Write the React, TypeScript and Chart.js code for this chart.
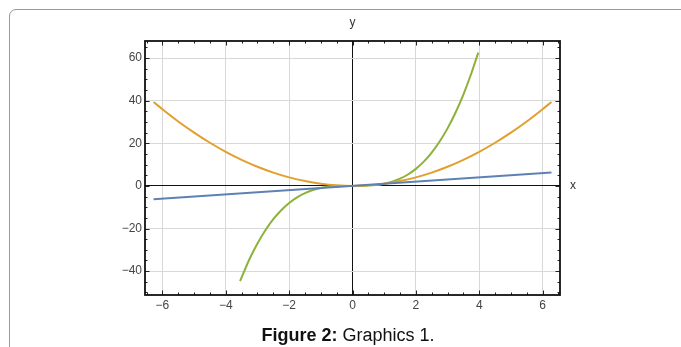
import React, { useEffect, useRef } from "react";
import { Chart, registerables } from "chart.js";

Chart.register(...registerables);

// ---- data ----
const lineX = [-6.28, 6.28];
const lineY = [-6.28, 6.28];

const squareX = [-6.28, -6, -5.5, -5, -4.5, -4, -3.5, -3, -2.5, -2, -1.5, -1, -0.5, 0, 0.5, 1, 1.5, 2, 2.5, 3, 3.5, 4, 4.5, 5, 5.5, 6, 6.28];
const squareY = [39.4, 36, 30.25, 25, 20.25, 16, 12.25, 9, 6.25, 4, 2.25, 1, 0.25, 0, 0.25, 1, 2.25, 4, 6.25, 9, 12.25, 16, 20.25, 25, 30.25, 36, 39.4];

const cubeX = [-3.55, -3.25, -3, -2.75, -2.5, -2.25, -2, -1.75, -1.5, -1.25, -1, -0.75, -0.5, -0.25, 0, 0.25, 0.5, 0.75, 1, 1.25, 1.5, 1.75, 2, 2.25, 2.5, 2.75, 3, 3.25, 3.5, 3.75, 3.97];
const cubeY = [-44.7, -34.3, -27, -20.8, -15.6, -11.4, -8, -5.36, -3.38, -1.95, -1, -0.42, -0.13, -0.02, 0, 0.02, 0.13, 0.42, 1, 1.95, 3.38, 5.36, 8, 11.39, 15.63, 20.8, 27, 34.33, 42.88, 52.73, 62.57];

const xMajorTicks = [-6, -4, -2, 0, 2, 4, 6];
const yMajorTicks = [-40, -20, 0, 20, 40, 60];
const xMinorStep = 0.5;
const yMinorStep = 5;
const xRange = [-6.55, 6.55];
const yRange = [-51.2, 68];

const seriesColors = ["#5E81B5", "#E39F2E", "#8DB13A"];

const zip = (xs: number[], ys: number[]) => xs.map((x, i) => ({ x, y: ys[i] }));
const fmt = (v: number) => (v < 0 ? "\u2212" + Math.abs(v) : String(v));

const framePlugin = {
  id: "mmaFrame",
  afterDraw(chart: any) {
    const { ctx, chartArea: a, scales } = chart;
    const xs = scales.x;
    const ys = scales.y;
    ctx.save();
    ctx.strokeStyle = "#222";
    ctx.lineWidth = 1;
    const drawX = (v: number, len: number) => {
      const p = Math.round(xs.getPixelForValue(v)) + 0.5;
      ctx.beginPath();
      ctx.moveTo(p, a.bottom);
      ctx.lineTo(p, a.bottom - len);
      ctx.moveTo(p, a.top);
      ctx.lineTo(p, a.top + len);
      ctx.stroke();
    };
    const drawY = (v: number, len: number) => {
      const p = Math.round(ys.getPixelForValue(v)) + 0.5;
      ctx.beginPath();
      ctx.moveTo(a.left, p);
      ctx.lineTo(a.left + len, p);
      ctx.moveTo(a.right, p);
      ctx.lineTo(a.right - len, p);
      ctx.stroke();
    };
    for (let v = Math.ceil(xRange[0] / xMinorStep) * xMinorStep; v <= xRange[1]; v += xMinorStep) {
      if (!xMajorTicks.includes(v)) drawX(v, 2.5);
    }
    xMajorTicks.forEach((v) => drawX(v, 4.5));
    for (let v = Math.ceil(yRange[0] / yMinorStep) * yMinorStep; v <= yRange[1]; v += yMinorStep) {
      if (!yMajorTicks.includes(v)) drawY(v, 2.5);
    }
    yMajorTicks.forEach((v) => drawY(v, 4.5));
    ctx.lineWidth = 1.8;
    ctx.strokeStyle = "#111";
    ctx.strokeRect(a.left, a.top, a.right - a.left, a.bottom - a.top);
    ctx.fillStyle = "#333";
    ctx.font = "12px 'Liberation Sans', Arial, sans-serif";
    ctx.textAlign = "center";
    ctx.textBaseline = "middle";
    ctx.fillText("y", xs.getPixelForValue(0), a.top - 18);
    ctx.fillText("x", a.right + 13, ys.getPixelForValue(0));
    ctx.restore();
  },
};

export default function App() {
  const ref = useRef<HTMLCanvasElement>(null);
  useEffect(() => {
    if (!ref.current) return;
    const tickFont = { size: 12, family: "'Liberation Sans', Arial, sans-serif" };
    const gridColor = (c: any) => (c.tick && c.tick.value === 0 ? "#111" : "#d8d8d8");
    const chart = new Chart(ref.current, {
      type: "scatter",
      data: {
        datasets: [
          { data: zip(lineX, lineY), borderColor: seriesColors[0] },
          { data: zip(squareX, squareY), borderColor: seriesColors[1] },
          { data: zip(cubeX, cubeY), borderColor: seriesColors[2] },
        ].map((d) => ({
          ...d,
          showLine: true,
          pointRadius: 0,
          borderWidth: 2,
          cubicInterpolationMode: "monotone" as const,
          clip: 2,
        })),
      },
      options: {
        animation: false,
        responsive: false,
        maintainAspectRatio: false,
        layout: { padding: { left: 0, right: 121, top: 41, bottom: 0 } },
        plugins: { legend: { display: false }, tooltip: { enabled: false } },
        scales: {
          x: {
            type: "linear",
            min: xRange[0],
            max: xRange[1],
            afterBuildTicks: (s: any) => {
              s.ticks = xMajorTicks.map((v) => ({ value: v }));
            },
            afterFit: (s: any) => {
              s.height = 52;
            },
            ticks: {
              callback: (v: any) => fmt(Number(v)),
              color: "#444",
              font: tickFont,
              padding: 3,
              maxRotation: 0,
              autoSkip: false,
            },
            grid: { drawTicks: false, color: gridColor, lineWidth: 1 },
            border: { display: false },
          },
          y: {
            type: "linear",
            min: yRange[0],
            max: yRange[1],
            afterBuildTicks: (s: any) => {
              s.ticks = yMajorTicks.map((v) => ({ value: v }));
            },
            afterFit: (s: any) => {
              s.width = 145;
            },
            ticks: {
              callback: (v: any) => fmt(Number(v)),
              color: "#444",
              font: tickFont,
              padding: 3,
              autoSkip: false,
            },
            grid: { drawTicks: false, color: gridColor, lineWidth: 1 },
            border: { display: false },
          },
        },
      },
      plugins: [framePlugin],
    } as any);
    return () => chart.destroy();
  }, []);

  return (
    <div style={{ position: "fixed", left: 0, top: 0, width: 681, height: 347, background: "#fff", overflow: "hidden" }}>
      <div
        style={{
          position: "absolute",
          left: 9,
          top: 9,
          width: 800,
          height: 500,
          border: "1px solid #9a9a9a",
          borderRadius: 7,
          boxSizing: "border-box",
        }}
      />
      <canvas ref={ref} width={681} height={347} style={{ position: "absolute", left: 0, top: 0, width: 681, height: 347 }} />
      <div
        style={{
          position: "absolute",
          left: 0,
          width: 696,
          top: 325,
          textAlign: "center",
          fontFamily: "'Liberation Sans', Arial, sans-serif",
          fontSize: 18,
          color: "#111",
          lineHeight: "20px",
        }}
      >
        <b>Figure 2:</b> Graphics 1.
      </div>
    </div>
  );
}
